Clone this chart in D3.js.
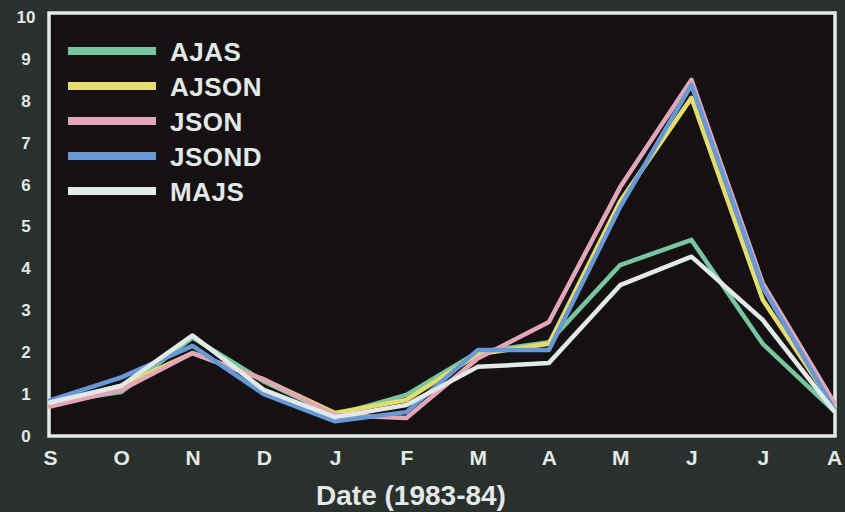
<!DOCTYPE html>
<html><head><meta charset="utf-8">
<script src="https://cdn.jsdelivr.net/npm/d3@7"></script>
<style>html,body{margin:0;padding:0;background:#2a302d;}svg{display:block;}</style>
</head><body>
<script>
const months = ["S","O","N","D","J","F","M","A","M","J","J","A"];
const yTicks = [0,1,2,3,4,5,6,7,8,9,10];
const seriesNames = ["AJAS","AJSON","JSON","JSOND","MAJS"];
const seriesColors = ["#78c6a0","#e6dc6e","#e3a6b8","#6898d6","#e2eae8"];
const AJAS  = [0.80,1.05,2.35,1.30,0.50,0.98,2.00,2.24,4.08,4.68,2.20,0.60];
const AJSON = [0.75,1.20,1.98,1.35,0.55,0.86,1.95,2.20,5.60,8.07,3.25,0.70];
const JSON_ = [0.70,1.10,1.98,1.35,0.50,0.43,1.85,2.72,5.94,8.50,3.65,0.80];
const JSOND = [0.85,1.40,2.15,1.00,0.35,0.57,2.05,2.05,5.47,8.38,3.55,0.65];
const MAJS  = [0.80,1.20,2.40,1.10,0.45,0.74,1.65,1.74,3.60,4.28,2.77,0.60];
const seriesValues = [AJAS, AJSON, JSON_, JSOND, MAJS];

(function () {
const W = 845, H = 512;
const svg = d3.select("body").append("svg").attr("width", W).attr("height", H);
svg.append("rect").attr("width", W).attr("height", H).attr("fill", "#2a302d");

const mLeft = 50, mRight = 834, mTop = 17, mBottom = 436;
const x = d3.scalePoint().domain(d3.range(months.length)).range([mLeft, mRight]);
const y = d3.scaleLinear().domain([0, 10]).range([mBottom, mTop]);

// plot frame
svg.append("rect").attr("x", 49).attr("y", 13).attr("width", 786).attr("height", 423)
  .attr("fill", "#151113").attr("stroke", "#e4ebe6").attr("stroke-width", 3.5);

const textColor = "#e2e9e6";
const font = "'Liberation Sans', Arial, sans-serif";

// y axis
const yAxis = svg.append("g").attr("transform", `translate(${mLeft - 14},0)`)
  .call(d3.axisLeft(y).tickValues(yTicks).tickSize(0).tickPadding(0));
yAxis.select(".domain").remove();
yAxis.selectAll("text").attr("fill", textColor).attr("font-family", font)
  .attr("font-weight", "bold").attr("font-size", 17).attr("text-anchor", "middle").attr("x", -10);

// x axis
const xAxis = svg.append("g").attr("transform", `translate(0,${mBottom + 14})`)
  .call(d3.axisBottom(x).tickFormat(i => months[i]).tickSize(0).tickPadding(0));
xAxis.select(".domain").remove();
xAxis.selectAll("text").attr("fill", textColor).attr("font-family", font)
  .attr("font-weight", "bold").attr("font-size", 21).attr("dy", "0.71em");

// axis title
svg.append("text").attr("x", 411).attr("y", 505).attr("text-anchor", "middle")
  .attr("fill", textColor).attr("font-family", font).attr("font-weight", "bold")
  .attr("font-size", 28).text("Date (1983-84)");

// lines
const line = d3.line().x((d, i) => x(i)).y(d => y(d));
seriesValues.forEach((vals, k) => {
  svg.append("path").datum(vals).attr("d", line).attr("fill", "none")
    .attr("stroke", seriesColors[k]).attr("stroke-width", 4.5)
    .attr("stroke-linejoin", "round").attr("stroke-linecap", "round");
});

// legend
const legendY = d3.scalePoint().domain(seriesNames).range([51, 191]);
seriesNames.forEach((name, k) => {
  const ly = legendY(name);
  svg.append("line").attr("x1", 68).attr("x2", 156).attr("y1", ly).attr("y2", ly)
    .attr("stroke", seriesColors[k]).attr("stroke-width", 8);
  svg.append("text").attr("x", 170).attr("y", ly).attr("dy", "0.37em")
    .attr("fill", textColor).attr("font-family", font).attr("font-weight", "bold")
    .attr("font-size", 26).attr("letter-spacing", 0.5).text(name);
});
})();
</script>
</body></html>
